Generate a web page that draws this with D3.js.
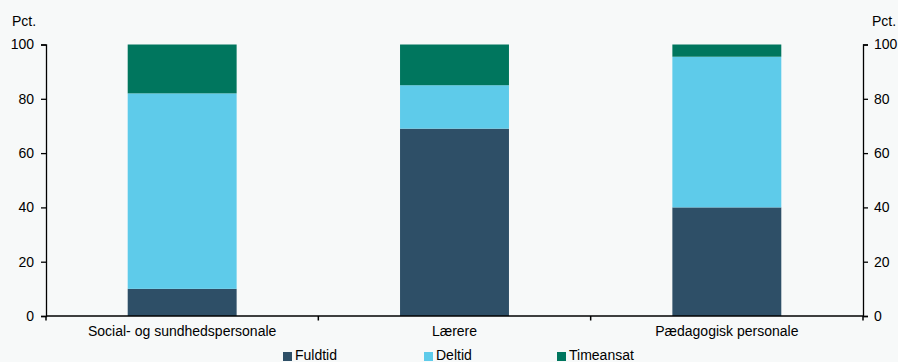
<!DOCTYPE html>
<html><head><meta charset="utf-8">
<script src="https://cdn.jsdelivr.net/npm/d3@7"></script>
<style>
html,body{margin:0;padding:0;background:#f7f9f9;}
svg{display:block;font-family:"Liberation Sans",Arial,sans-serif;}
</style></head>
<body><svg id="c" width="898" height="362"></svg>
<script>
const categories = ["Social- og sundhedspersonale", "Lærere", "Pædagogisk personale"];
const seriesNames = ["Fuldtid", "Deltid", "Timeansat"];
const fuldtid = [10, 69, 40];
const deltid = [72, 16, 55.5];
const timeansat = [18, 15, 4.5];
const colors = ["#2e4f67", "#5ecbea", "#00765e"];
const yTicks = [0, 20, 40, 60, 80, 100];

(function () {
const svg = d3.select("#c");
const mLeft = 46, mRight = 863, mTop = 44.5, mBottom = 316;
const x = d3.scaleBand().domain(categories).range([mLeft, mRight]).padding(0);
const y = d3.scaleLinear().domain([0, 100]).range([mBottom, mTop]);

const rows = categories.map((c, i) => ({cat: c, Fuldtid: fuldtid[i], Deltid: deltid[i], Timeansat: timeansat[i]}));
const stack = d3.stack().keys(seriesNames)(rows);
const bw = x.bandwidth() * 0.4;

svg.append("g").selectAll("g").data(stack).join("g")
  .attr("fill", (d, i) => colors[i])
  .selectAll("rect").data(d => d).join("rect")
  .attr("x", d => x(d.data.cat) + x.bandwidth() / 2 - bw / 2)
  .attr("width", bw)
  .attr("y", d => y(d[1]))
  .attr("height", d => y(d[0]) - y(d[1]));

const fontSize = "14px";
const la = svg.append("g").attr("transform", `translate(${mLeft},0)`)
  .call(d3.axisLeft(y).tickValues(yTicks).tickSize(5).tickPadding(7));
const ra = svg.append("g").attr("transform", `translate(${mRight},0)`)
  .call(d3.axisRight(y).tickValues(yTicks).tickSize(5).tickPadding(6));
[la, ra].forEach(a => {
  a.select(".domain").attr("stroke", "#000").attr("stroke-width", 1.3);
  a.selectAll("line").attr("stroke", "#000").attr("stroke-width", 1.3);
  a.selectAll("text").attr("font-size", fontSize).attr("fill", "#000").attr("font-family", "Liberation Sans, Arial, sans-serif");
});

const xa = svg.append("g");
xa.append("line").attr("x1", mLeft).attr("x2", mRight).attr("y1", mBottom).attr("y2", mBottom)
  .attr("stroke", "#000").attr("stroke-width", 1.5);
const bounds = [mLeft, ...categories.slice(1).map(c => x(c)), mRight];
xa.selectAll("line.t").data(bounds).join("line").attr("class", "t")
  .attr("x1", d => d).attr("x2", d => d).attr("y1", mBottom).attr("y2", mBottom + 4.5)
  .attr("stroke", "#000").attr("stroke-width", 1.5);
xa.selectAll("text").data(categories).join("text")
  .attr("x", d => x(d) + x.bandwidth() / 2).attr("y", 336)
  .attr("text-anchor", "middle").attr("font-size", fontSize).text(d => d);

svg.append("text").attr("x", 12).attr("y", 26).attr("font-size", fontSize).text("Pct.");
svg.append("text").attr("x", 872).attr("y", 26).attr("font-size", fontSize).text("Pct.");

const legX = [283, 424, 557];
const lg = svg.append("g");
seriesNames.forEach((s, i) => {
  lg.append("rect").attr("x", legX[i]).attr("y", 352).attr("width", 9).attr("height", 9).attr("fill", colors[i]);
  lg.append("text").attr("x", legX[i] + 12).attr("y", 360).attr("font-size", fontSize).text(s);
});
})();
</script></body></html>
